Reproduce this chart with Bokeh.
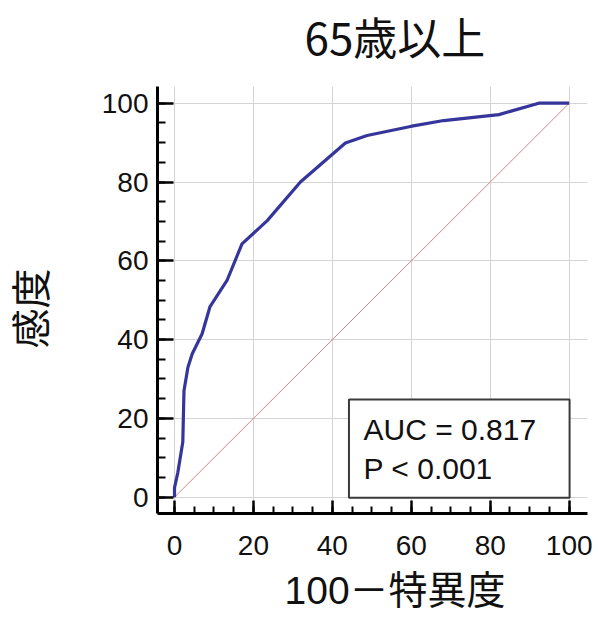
from bokeh.plotting import figure
from bokeh.models import BoxAnnotation, Label, FixedTicker, Title
from bokeh.embed import file_html
from bokeh.resources import INLINE

# ---- data ----
fpr = [0, 0, 0.85, 2.1, 2.4, 3.4, 4.5, 7.0, 9.0, 13.3, 17.1, 23.5, 31.9, 43.3,
       48.8, 59.8, 68.2, 82.2, 92.3, 100]
sens = [0, 2.4, 6.3, 14.0, 27.0, 33.0, 36.4, 41.5, 48.4, 55.0, 64.3, 70.2, 80.0,
        89.9, 91.8, 94.1, 95.6, 97.1, 100, 100]
diag_x = [0, 100]
diag_y = [0, 100]
major_ticks = [0, 20, 40, 60, 80, 100]
minor_ticks = [0, 5, 10, 15, 20, 25, 30, 35, 40, 45, 50, 55, 60, 65, 70, 75, 80, 85, 90, 95, 100]
title_text = "65歳以上"
xlabel_text = "100－特異度"
ylabel_text = "感度"
auc_text = "AUC = 0.817"
p_text = "P < 0.001"

p = figure(width=598, height=621, x_range=(-4.31, 104.64), y_range=(-4.14, 104.24),
           output_backend="svg", toolbar_location=None,
           min_border_left=157, min_border_right=11, min_border_top=86, min_border_bottom=108)
p.outline_line_color = None
p.background_fill_color = "white"
p.border_fill_color = "white"

for ax, tin, min_in in ((p.xaxis, 13, 7), (p.yaxis, 16, 8)):
    ax.ticker = FixedTicker(ticks=major_ticks, minor_ticks=minor_ticks)
    ax.axis_line_width = 3
    ax.axis_line_color = "black"
    ax.major_tick_line_width = 2.5
    ax.minor_tick_line_width = 2
    ax.major_tick_line_color = "black"
    ax.minor_tick_line_color = "black"
    ax.major_tick_in = tin
    ax.major_tick_out = 0
    ax.minor_tick_in = min_in
    ax.minor_tick_out = 0
    ax.major_label_text_font = "Liberation Sans"
    ax.major_label_text_font_size = "28px"
    ax.major_label_text_color = "#111111"

p.yaxis.major_label_standoff = 9
p.xaxis.major_label_standoff = 22

for g in (p.xgrid, p.ygrid):
    g.ticker = FixedTicker(ticks=major_ticks)
    g.grid_line_color = "#d4d4d4"
    g.grid_line_width = 1

p.line(diag_x, diag_y, line_color="#d08585", line_width=1)
p.line(fpr, sens, line_color="#35359b", line_width=3.2, line_join="round")

box = BoxAnnotation(left=44.2, right=100.1, bottom=-0.15, top=24.8,
                    fill_color="white", fill_alpha=1.0,
                    line_color="#3a3a3a", line_width=2, line_alpha=1.0)
p.add_layout(box)
p.add_layout(Label(x=47.9, y=17.2, text=auc_text, text_font="Liberation Sans",
                   text_font_size="30px", text_baseline="alphabetic", text_color="#111111"))
p.add_layout(Label(x=47.9, y=7.4, text=p_text, text_font="Liberation Sans",
                   text_font_size="30px", text_baseline="alphabetic", text_color="#111111"))


def spacer(px):
    return Title(text=" ", text_font="Liberation Sans", text_font_size="1px",
                 standoff=max(px - 3.1, 0))


LABEL_FONT = "Liberation Sans, Noto Sans CJK JP"

# title above (spacer nearest the frame, title outside it)
p.add_layout(spacer(19), "above")
p.add_layout(Title(text=title_text, align="left", offset=147, standoff=0,
                   text_font="Noto Sans CJK JP", text_font_size="44px",
                   text_font_style="normal", text_color="#111111"), "above")

# x label below
p.add_layout(spacer(9), "below")
p.add_layout(Title(text=xlabel_text, align="left", offset=127, standoff=0,
                   text_font=LABEL_FONT, text_font_size="39px",
                   text_font_style="normal", text_color="#111111"), "below")

# y label left
p.add_layout(spacer(44.8), "left")
p.add_layout(Title(text=ylabel_text, align="left", offset=165, standoff=0,
                   text_font=LABEL_FONT, text_font_size="40px",
                   text_font_style="normal", text_color="#111111"), "left")

open("out.html", "w").write(file_html(p, INLINE))
